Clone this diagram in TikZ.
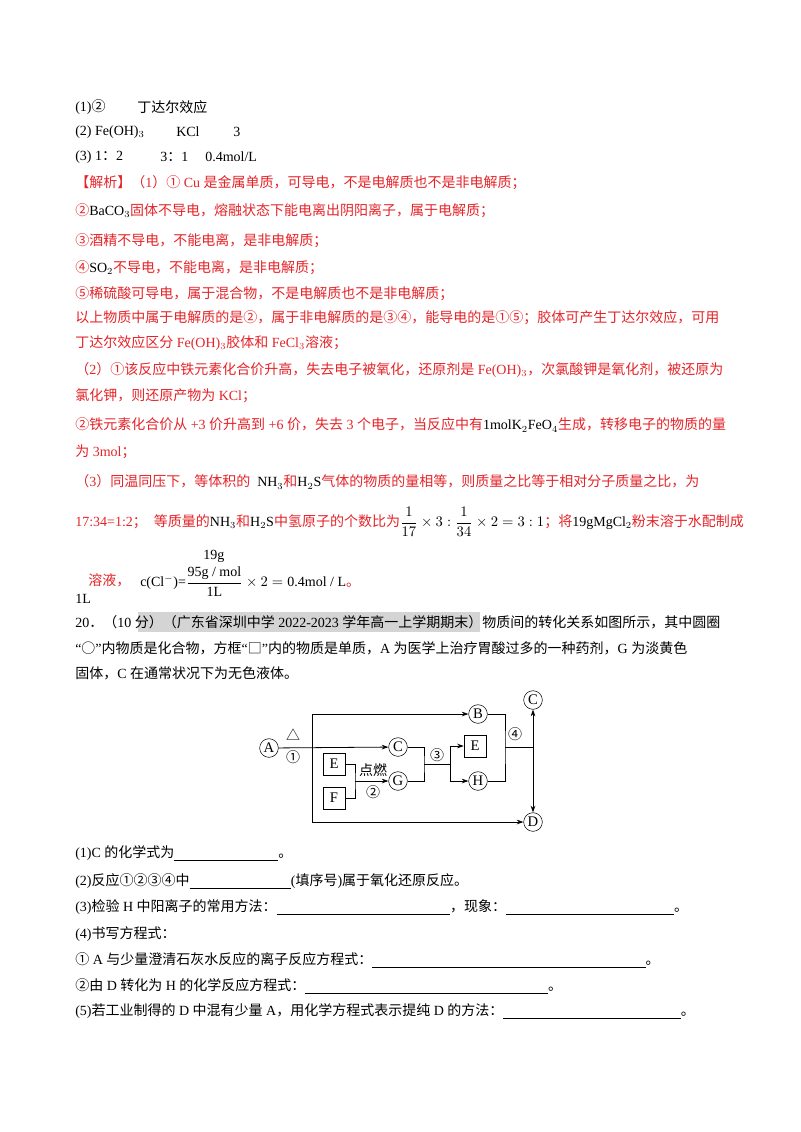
\documentclass[tikz,border=0pt]{standalone}
\usetikzlibrary{arrows.meta}
\usepackage{amsmath}
\usepackage{fontspec}
\setmainfont{Liberation Serif}
\newfontfamily\cjk{Noto Sans CJK SC}
\XeTeXinterchartokenstate=1
\newXeTeXintercharclass\cjkcls
\newcount\cc
\def\setcls#1#2{\cc=#1\relax\loop\XeTeXcharclass\cc=\cjkcls\ifnum\cc<#2\advance\cc by 1\repeat}
\setcls{"4E00}{"9FFF}
\setcls{"3000}{"303F}
\setcls{"FF00}{"FF60}
\setcls{"2460}{"2473}
\XeTeXcharclass"25CB=\cjkcls
\XeTeXcharclass"25A1=\cjkcls
\XeTeXcharclass"25B3=\cjkcls
\XeTeXinterchartoks 0 \cjkcls = {\cjk}
\XeTeXinterchartoks 4095 \cjkcls = {\cjk}
\XeTeXinterchartoks \cjkcls 0 = {\rmfamily}
\XeTeXinterchartoks \cjkcls 4095 = {\rmfamily}
\newcommand\bl[1]{\rule[-2.5pt]{#1}{0.5pt}}
\definecolor{ared}{HTML}{E42328}
\definecolor{hl}{HTML}{D4D4D4}
\begin{document}
\begin{tikzpicture}[x=0.75pt,y=-0.75pt,
  t/.style={anchor=west,inner sep=0pt,font=\fontsize{10.5}{12}\selectfont},
  r/.style={t,text=ared},
  cir/.style={draw,circle,minimum size=14pt,inner sep=0pt,font=\fontsize{11}{12}\selectfont},
  box/.style={draw,minimum size=16.5pt,inner sep=0pt,font=\fontsize{11}{12}\selectfont},
  ln/.style={line width=0.6pt},
  ar/.style={ln,-{Stealth[length=5pt,width=3.5pt]}}]
\useasboundingbox (0,0) rectangle (800,1132);
\node[t] (l1a) at (75,107) {(1)②};
\node[t] (l1b) at (137,107) {丁达尔效应};
\node[t] (l2a) at (75,132) {(2) Fe(OH)$_3$};
\node[t] (l2b) at (176,132) {KCl};
\node[t] (l2c) at (233,132) {3};
\node[t] (l3a) at (75,157) {(3) 1：2};
\node[t] (l3b) at (160,157) {3：1};
\node[t] (l3c) at (205,157) {0.4mol/L};
\node[r] (p1) at (75,183) {【解析】（1）① Cu 是金属单质，可导电，不是电解质也不是非电解质；};
\node[r] (p2) at (75,211) {②\textcolor{black}{BaCO$_3$}固体不导电，熔融状态下能电离出阴阳离子，属于电解质；};
\node[r] (p3) at (75,241) {③酒精不导电，不能电离，是非电解质；};
\node[r] (p4) at (75,268) {④\textcolor{black}{SO$_2$}不导电，不能电离，是非电解质；};
\node[r] (p5) at (75,294) {⑤稀硫酸可导电，属于混合物，不是电解质也不是非电解质；};
\node[r] (p6) at (75,318) {以上物质中属于电解质的是②，属于非电解质的是③④，能导电的是①⑤；胶体可产生丁达尔效应，可用};
\node[r] (p7) at (75,343) {丁达尔效应区分 Fe(OH)$_3$胶体和 FeCl$_3$溶液；};
\node[r] (p8) at (75,370) {（2）①该反应中铁元素化合价升高，失去电子被氧化，还原剂是 Fe(OH)$_3$，次氯酸钾是氧化剂，被还原为};
\node[r] (p9) at (75,396) {氯化钾，则还原产物为 KCl；};
\node[r] (p10) at (75,425) {②铁元素化合价从 +3 价升高到 +6 价，失去 3 个电子，当反应中有\textcolor{black}{1molK$_2$FeO$_4$}生成，转移电子的物质的量};
\node[r] (p11) at (75,452) {为 3mol；};
\node[r] (p12) at (75,482) {（3）同温同压下，等体积的 \ \textcolor{black}{NH$_3$}和\textcolor{black}{H$_2$S}气体的物质的量相等，则质量之比等于相对分子质量之比，为};
\node[r] (p13) at (75,522) {17:34=1:2；\ \ 等质量的\textcolor{black}{NH$_3$}和\textcolor{black}{H$_2$S}中氢原子的个数比为\textcolor{black}{$\dfrac{1}{17}\times3:\dfrac{1}{34}\times2=3:1$}；将\textcolor{black}{19gMgCl$_2$}粉末溶于水配制成};
\node[t] (f1) at (203,556) {19g};
\node[r] (p14) at (88,580) {溶液，};
\node[t] (f2) at (140,582) {c(Cl$^-$)=$\dfrac{\text{95g / mol}}{\text{1L}}\times 2=\text{0.4mol / L}$\textcolor{ared}{。}};
\node[t] (f3) at (75,599) {1L};
\fill[hl] (138,612) rectangle (480,632);
\node[t] (q0) at (75,622) {20．（10 分）（广东省深圳中学 2022-2023 学年高一上学期期末）物质间的转化关系如图所示，其中圆圈};
\node[t] (q1) at (75,648) {“○”内物质是化合物，方框“□”内的物质是单质，A 为医学上治疗胃酸过多的一种药剂，G 为淡黄色};
\node[t] (q2) at (75,673) {固体，C 在通常状况下为无色液体。};
% diagram
\node[cir] (A) at (269,748) {A};
\node[cir] (B) at (478,714) {B};
\node[cir] (Ct) at (533,700) {C};
\node[cir] (Cm) at (398,747) {C};
\node[cir] (G) at (398,781) {G};
\node[cir] (H) at (478,781) {H};
\node[box] (E2) at (475,746) {E};
\node[box] (E1) at (334,764) {E};
\node[box] (F) at (334,798) {F};
\node[cir] (D) at (533,822) {D};
\coordinate (v1) at (312,714);
\coordinate (v2) at (312,822);
\draw[ar] (A) -- (Cm);
\draw[ar] (v1) -- (B);
\draw[ar] (v2) -- (D);
\draw[ln] (v1) -- (v2);
\coordinate (j1) at (355,781);
\draw[ln] (E1.east) -| (j1) |- (F.east);
\draw[ar] (j1) -- (G);
\coordinate (j2) at (424,764);
\coordinate (j3) at (450,764);
\draw[ln] (Cm.east) -| (j2) |- (G.east);
\draw[ln] (j2) -- (j3);
\draw[ar] (j3) |- (E2.west);
\draw[ar] (j3) |- (H.west);
\coordinate (j4) at (505,747);
\coordinate (j5) at (533,747);
\draw[ln] (B.east) -| (j4) |- (H.east);
\draw[ln] (j4) -- (j5);
\draw[ar] (j5) -- (Ct);
\draw[ar] (j5) -- (D);
\node[t,anchor=center] (tri) at (293,735) {△};
\node[t,anchor=center] (n1) at (293,757) {①};
\node[t,anchor=center] (ign) at (373,770) {点燃};
\node[t,anchor=center] (n2) at (373,792) {②};
\node[t,anchor=center] (n3) at (437,755) {③};
\node[t,anchor=center] (n4) at (515,734) {④};
% questions
\node[t] (s1) at (75,853) {(1)C 的化学式为\bl{78pt}。};
\node[t] (s2) at (75,881) {(2)反应①②③④中\bl{76pt}(填序号)属于氧化还原反应。};
\node[t] (s3) at (75,907) {(3)检验 H 中阳离子的常用方法：\bl{130pt}，现象：\bl{126pt}。};
\node[t] (s4) at (75,934) {(4)书写方程式：};
\node[t] (s5) at (75,960) {① A 与少量澄清石灰水反应的离子反应方程式：\bl{205pt}。};
\node[t] (s6) at (75,986) {②由 D 转化为 H 的化学反应方程式：\bl{182pt}。};
\node[t] (s7) at (75,1011) {(5)若工业制得的 D 中混有少量 A，用化学方程式表示提纯 D 的方法：\bl{133pt}。};
\end{tikzpicture}
\end{document}
